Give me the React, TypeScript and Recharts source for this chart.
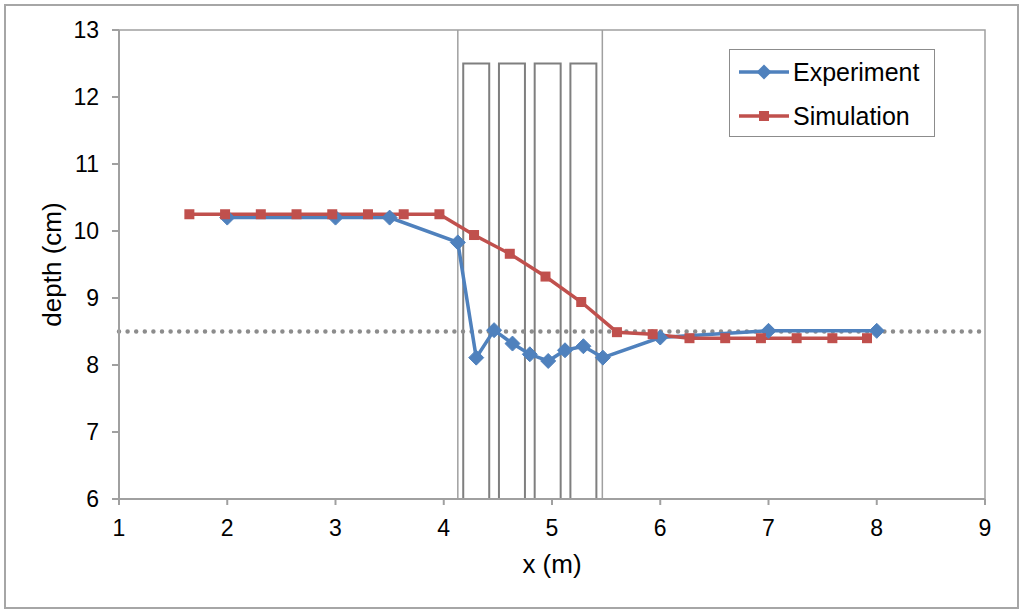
import {
  ComposedChart,
  Label,
  Line,
  ReferenceArea,
  ReferenceLine,
  XAxis,
  YAxis,
} from "recharts";

const xTicks = [1, 2, 3, 4, 5, 6, 7, 8, 9];
const yTicks = [6, 7, 8, 9, 10, 11, 12, 13];

const expX = [2, 3, 3.5, 4.13, 4.3, 4.465, 4.635, 4.795, 4.965, 5.12, 5.29, 5.47, 6, 7, 8];
const expDepth = [10.2, 10.2, 10.2, 9.83, 8.11, 8.52, 8.32, 8.16, 8.06, 8.22, 8.28, 8.11, 8.41, 8.51, 8.51];

const simX = [
  1.65, 1.98, 2.31, 2.64, 2.97, 3.3, 3.63, 3.96, 4.28, 4.61, 4.94, 5.27, 5.6, 5.93, 6.27, 6.6,
  6.93, 7.26, 7.59, 7.91,
];
const simDepth = [
  10.25, 10.25, 10.25, 10.25, 10.25, 10.25, 10.25, 10.25, 9.94, 9.66, 9.32, 8.94, 8.49, 8.46,
  8.4, 8.4, 8.4, 8.4, 8.4, 8.4,
];

// vegetation blocks and the edges of the zone
const blockStart = [4.18, 4.51, 4.84, 5.17];
const blockEnd = [4.42, 4.75, 5.08, 5.41];
const blockTop = 12.5;
const zoneEdges = [4.13, 5.465];
const stillWater = 8.5;

const expData = expX.map((x, i) => ({ x, depth: expDepth[i] }));
const simData = simX.map((x, i) => ({ x, depth: simDepth[i] }));

const BLUE = "#4F81BD";
const RED = "#C0504D";
const AXIS = "#a0a0a0";
const FONT = "'Liberation Sans', Arial, sans-serif";

const diamond = (p: any) => {
  const { cx, cy, index } = p;
  const r = 7.5;
  return (
    <polygon
      key={`d-${index}`}
      points={`${cx},${cy - r} ${cx + r},${cy} ${cx},${cy + r} ${cx - r},${cy}`}
      fill={BLUE}
      stroke={BLUE}
    />
  );
};

const square = (p: any) => {
  const { cx, cy, index } = p;
  return <rect key={`s-${index}`} x={cx - 5} y={cy - 5} width={10} height={10} fill={RED} />;
};

function LegendBox() {
  const rows = [
    { name: "Experiment", color: BLUE, mark: "d" },
    { name: "Simulation", color: RED, mark: "s" },
  ];
  return (
    <div
      style={{
        position: "absolute",
        left: 729,
        top: 49,
        width: 206,
        height: 88,
        boxSizing: "border-box",
        border: "1.5px solid #8c8c8c",
        background: "#fff",
        fontFamily: FONT,
        fontSize: 25,
        color: "#000",
      }}
    >
      {rows.map((r, i) => (
        <div
          key={r.name}
          style={{ position: "absolute", left: 9, top: 5 + i * 44, display: "flex", alignItems: "center", height: 34 }}
        >
          <svg width={52} height={20}>
            <line x1={0} y1={10} x2={50} y2={10} stroke={r.color} strokeWidth={3.5} />
            {r.mark === "d" ? (
              <polygon points="25,2.5 32.5,10 25,17.5 17.5,10" fill={r.color} />
            ) : (
              <rect x={20} y={5} width={10} height={10} fill={r.color} />
            )}
          </svg>
          <span style={{ marginLeft: 2 }}>{r.name}</span>
        </div>
      ))}
    </div>
  );
}

export default function App() {
  return (
    <div style={{ position: "absolute", left: 0, top: 0, width: 1024, height: 615, background: "#fff" }}>
      <div
        style={{
          position: "absolute",
          left: 4,
          top: 4,
          width: 1015,
          height: 605,
          boxSizing: "border-box",
          border: "2px solid #a6a6a6",
        }}
      />
      <ComposedChart
        width={1024}
        height={615}
        margin={{ top: 30, right: 39, bottom: 0, left: 0 }}
        style={{ position: "absolute", left: 0, top: 0, fontFamily: FONT }}
      >
        <XAxis
          dataKey="x"
          type="number"
          domain={[1, 9]}
          ticks={xTicks}
          allowDuplicatedCategory={false}
          height={116}
          stroke={AXIS}
          strokeWidth={2}
          tickSize={6}
          tickMargin={15}
          tick={{ fill: "#000", fontSize: 23 }}
        >
          <Label value="x (m)" position="insideBottom" offset={42} style={{ fill: "#000", fontSize: 26 }} />
        </XAxis>
        <YAxis
          type="number"
          domain={[6, 13]}
          ticks={yTicks}
          width={119}
          stroke={AXIS}
          strokeWidth={2}
          tickSize={7}
          tickMargin={13}
          tick={{ fill: "#000", fontSize: 23 }}
        >
          <Label
            value="depth (cm)"
            angle={-90}
            position="insideLeft"
            offset={52}
            style={{ fill: "#000", fontSize: 26, textAnchor: "middle" }}
          />
        </YAxis>
        <ReferenceArea x1={1} x2={9} y1={6} y2={13} fill="none" stroke={AXIS} strokeWidth={1.5} />
        {zoneEdges.map((x) => (
          <ReferenceLine key={`z-${x}`} x={x} stroke={AXIS} strokeWidth={1.5} />
        ))}
        {blockStart.map((x, i) => (
          <ReferenceArea
            key={`b-${x}`}
            x1={x}
            x2={blockEnd[i]}
            y1={6}
            y2={blockTop}
            fill="none"
            stroke="#7f7f7f"
            strokeWidth={2}
          />
        ))}
        <ReferenceLine
          y={stillWater}
          stroke="#8c8c8c"
          strokeWidth={4.5}
          strokeDasharray="0 8.6"
          strokeLinecap="round"
        />
        <Line
          data={expData}
          dataKey="depth"
          name="Experiment"
          stroke={BLUE}
          strokeWidth={3.5}
          dot={diamond}
          isAnimationActive={false}
        />
        <Line
          data={simData}
          dataKey="depth"
          name="Simulation"
          stroke={RED}
          strokeWidth={3.5}
          dot={square}
          isAnimationActive={false}
        />
      </ComposedChart>
      <LegendBox />
    </div>
  );
}
